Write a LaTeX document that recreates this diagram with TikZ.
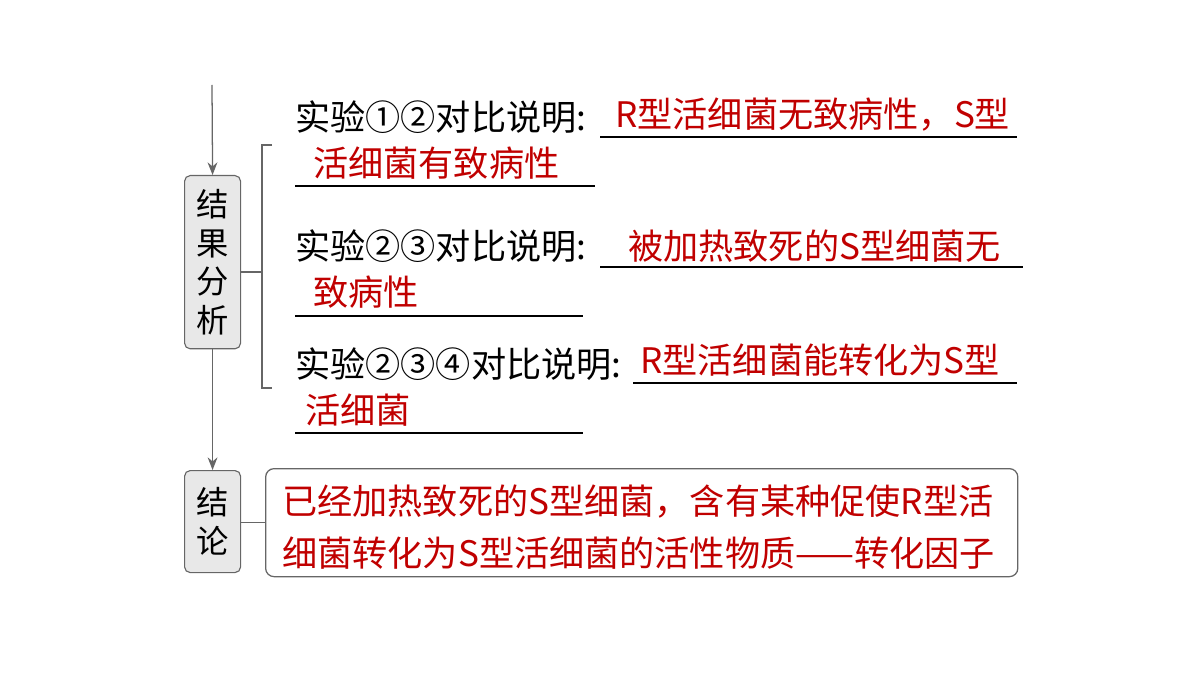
\documentclass[tikz,border=0pt]{standalone}
\usepackage{fontspec}
\setmainfont{Noto Sans CJK SC}
\usetikzlibrary{arrows.meta}
\definecolor{rd}{HTML}{C00000}
\tikzset{
 box/.style={draw=black!60,fill=black!9,rounded corners=4pt,line width=0.8pt},
 ln/.style={draw=black!60,line width=0.9pt},
 ul/.style={draw=black,line width=0.8pt},
 arr/.style={ln,-{Stealth[length=9pt,width=7pt]}},
 bt/.style={anchor=west,inner sep=0pt,font=\fontsize{25}{30}\selectfont},
 rt/.style={bt,text=rd}
}
\begin{document}
\begin{tikzpicture}[x=0.025cm,y=-0.025cm]
\useasboundingbox (0,0) rectangle (1200,675);
\node[box,minimum width=1.4cm,minimum height=4.33cm,anchor=north west,inner sep=0pt,align=center,font=\fontsize{23}{27.5}\selectfont] (jg) at (184,175) {结\\果\\分\\析};
\node[box,minimum width=1.4cm,minimum height=2.55cm,anchor=north west,inner sep=0pt,align=center,font=\fontsize{23}{27.5}\selectfont] (jl) at (184,470) {结\\论};
\coordinate (top) at (212,85);
\draw[arr] (top) -- (jg.north);
\draw[arr] (jg.south) -- (jl.north);
\coordinate (b1) at (262,272);
\draw[ln] (jg.east|-b1) -- (b1);
\draw[ln] (272,145) -- (262,145) -- (262,388) -- (272,388);
\node[draw=black!60,line width=0.9pt,rounded corners=6pt,minimum width=18.8cm,minimum height=2.7cm,anchor=north west] (cb) at (265,468) {};
\draw[ln] (jl.east|-cb.west) -- (cb.west);
% row 1
\node[bt] (a1) at (295,117) {实验①②对比说明:};
\node[rt] (r1) at (615,115) {R型活细菌无致病性，S型};
\draw[ul] (600,137) -- (1017,137);
\node[rt] (r1b) at (313,163) {活细菌有致病性};
\draw[ul] (295,186) -- (595,186);
% row 2
\node[bt] (a2) at (295,246) {实验②③对比说明:};
\node[rt] (r2) at (628,246) {被加热致死的S型细菌无};
\draw[ul] (600,267) -- (1023,267);
\node[rt] (r2b) at (313,292) {致病性};
\draw[ul] (295,316) -- (583,316);
% row 3
\node[bt] (a3) at (295,364) {实验②③④对比说明:};
\node[rt] (r3) at (640,360) {R型活细菌能转化为S型};
\draw[ul] (633,383) -- (1017,383);
\node[rt] (r3b) at (305,410) {活细菌};
\draw[ul] (295,433) -- (583,433);
% conclusion
\node[rt] (c1) at (282,502) {已经加热致死的S型细菌，含有某种促使R型活};
\node[rt] (c2) at (282,553) {细菌转化为S型活细菌的活性物质——转化因子};
\end{tikzpicture}
\end{document}
